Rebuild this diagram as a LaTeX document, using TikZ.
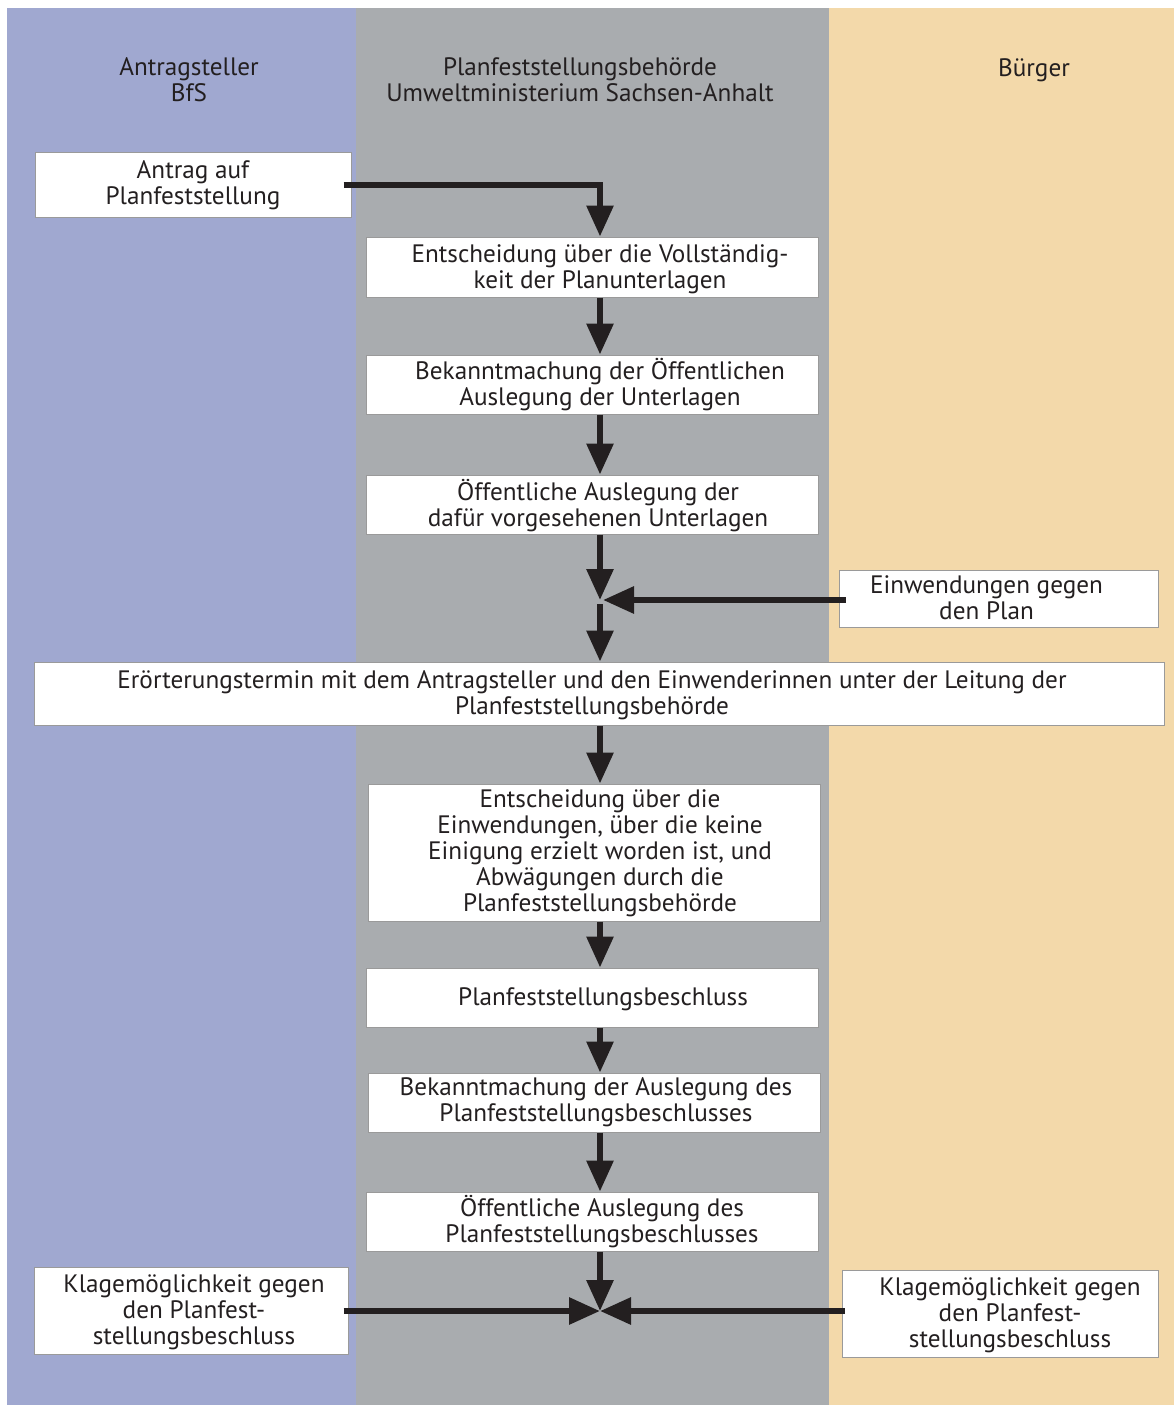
\documentclass[tikz,border=0pt]{standalone}
\usepackage{fontspec}
\setmainfont{PT Sans}
\usetikzlibrary{arrows.meta}
\definecolor{colblue}{HTML}{A0A8D0}
\definecolor{colgrey}{HTML}{A9ACAF}
\definecolor{colorange}{HTML}{F3D9AA}
\definecolor{ink}{HTML}{231F20}
\definecolor{boxline}{HTML}{9A9A9A}
\tikzset{
  flowbox/.style={draw=boxline, line width=1pt, fill=white, inner sep=0pt},
  boxtext/.style={inner sep=0pt, align=center, text=ink, font=\fontsize{25.2}{26}\selectfont},
  header/.style={inner sep=0pt, align=center, text=ink, font=\fontsize{25.2}{26}\selectfont},
  conn/.style={draw=ink, line width=6pt, -{Triangle[length=31pt,width=26pt]}},
}
\begin{document}
\begin{tikzpicture}[x=1pt,y=-1pt]
\useasboundingbox (0,0) rectangle (1174,1405);
\fill[white] (0,0) rectangle (1174,1405);
\fill[colblue] (7,8) rectangle (356,1405);
\fill[colgrey] (356,8) rectangle (829,1405);
\fill[colorange] (829,8) rectangle (1174,1405);

\node[header] (h1) at (189,80) {Antragsteller\\BfS};
\node[header] (h2) at (580,80) {Planfeststellungsbehörde\\Umweltministerium Sachsen-Anhalt};
\node[header] (h3) at (1034,70) {Bürger};

\node[flowbox, minimum width=316pt, minimum height=65pt] (b1) at (193,184.5) {};
\node[flowbox, minimum width=452pt, minimum height=60pt] (b2) at (592,267) {};
\node[flowbox, minimum width=452pt, minimum height=59pt] (b3) at (592,384.5) {};
\node[flowbox, minimum width=452pt, minimum height=59pt] (b4) at (592,504.5) {};
\node[flowbox, minimum width=319pt, minimum height=57pt] (b5) at (998.5,598.5) {};
\node[flowbox, minimum width=1130pt, minimum height=63pt] (b6) at (599,693.5) {};
\node[flowbox, minimum width=452pt, minimum height=137pt] (b7) at (594,852.5) {};
\node[flowbox, minimum width=452pt, minimum height=59pt] (b8) at (592,997.5) {};
\node[flowbox, minimum width=452pt, minimum height=59pt] (b9) at (594,1102.5) {};
\node[flowbox, minimum width=452pt, minimum height=59pt] (b10) at (592,1221.5) {};
\node[flowbox, minimum width=314pt, minimum height=87pt] (b11) at (191,1310.5) {};
\node[flowbox, minimum width=316pt, minimum height=87pt] (b12) at (1000,1313.5) {};

\node[boxtext] (t1) at ([xshift=0pt,yshift=-1pt]b1.center) {Antrag auf\\Planfeststellung};
\node[boxtext] (t2) at ([xshift=8pt,yshift=-2.5pt]b2.center) {Entscheidung über die Vollständig-\\keit der Planunterlagen};
\node[boxtext] (t3) at ([xshift=8pt,yshift=-0.5pt]b3.center) {Bekanntmachung der Öffentlichen\\Auslegung der Unterlagen};
\node[boxtext] (t4) at ([xshift=6pt,yshift=-1pt]b4.center) {Öffentliche Auslegung der\\dafür vorgesehenen Unterlagen};
\node[boxtext] (t5) at ([xshift=-12pt,yshift=1pt]b5.center) {Einwendungen gegen\\den Plan};
\node[boxtext] (t6) at ([xshift=-7pt,yshift=-2pt]b6.center) {Erörterungstermin mit dem Antragsteller und den Einwenderinnen unter der Leitung der\\Planfeststellungsbehörde};
\node[boxtext] (t7) at ([xshift=6pt,yshift=-1pt]b7.center) {Entscheidung über die\\Einwendungen, über die keine\\Einigung erzielt worden ist, und\\Abwägungen durch die\\Planfeststellungsbehörde};
\node[boxtext] (t8) at ([xshift=11pt,yshift=-2pt]b8.center) {Planfeststellungsbeschluss};
\node[boxtext] (t9) at ([xshift=2pt,yshift=0pt]b9.center) {Bekanntmachung der Auslegung des\\Planfeststellungsbeschlusses};
\node[boxtext] (t10) at ([xshift=10pt,yshift=0pt]b10.center) {Öffentliche Auslegung des\\Planfeststellungsbeschlusses};
\node[boxtext] (t11) at ([xshift=3pt,yshift=-2pt]b11.center) {Klagemöglichkeit gegen\\den Planfest-\\stellungsbeschluss};
\node[boxtext] (t12) at ([xshift=10pt,yshift=-2pt]b12.center) {Klagemöglichkeit gegen\\den Planfest-\\stellungsbeschluss};

\coordinate (cx) at (600,0);
\coordinate (j1) at (600,600);
\coordinate (j2) at (600,1311);

\draw[conn] ([xshift=-8pt]b1.east) -| (b2.north -| cx);
\draw[conn] (b2.south -| cx) -- (b3.north -| cx);
\draw[conn] (b3.south -| cx) -- (b4.north -| cx);
\draw[conn] (b4.south -| cx) -- (j1);
\draw[conn] ([xshift=7pt]b5.west |- j1) -- ([xshift=3pt]j1);
\draw[conn] ([yshift=-4pt]j1) -- (b6.north -| cx);
\draw[conn] (b6.south -| cx) -- (b7.north -| cx);
\draw[conn] (b7.south -| cx) -- (b8.north -| cx);
\draw[conn] (b8.south -| cx) -- (b9.north -| cx);
\draw[conn] (b9.south -| cx) -- (b10.north -| cx);
\draw[conn] (b10.south -| cx) -- (j2);
\draw[conn] ([xshift=-5pt]b11.east |- j2) -- (j2);
\draw[conn] ([xshift=3pt]b12.west |- j2) -- (j2);
\end{tikzpicture}
\end{document}
